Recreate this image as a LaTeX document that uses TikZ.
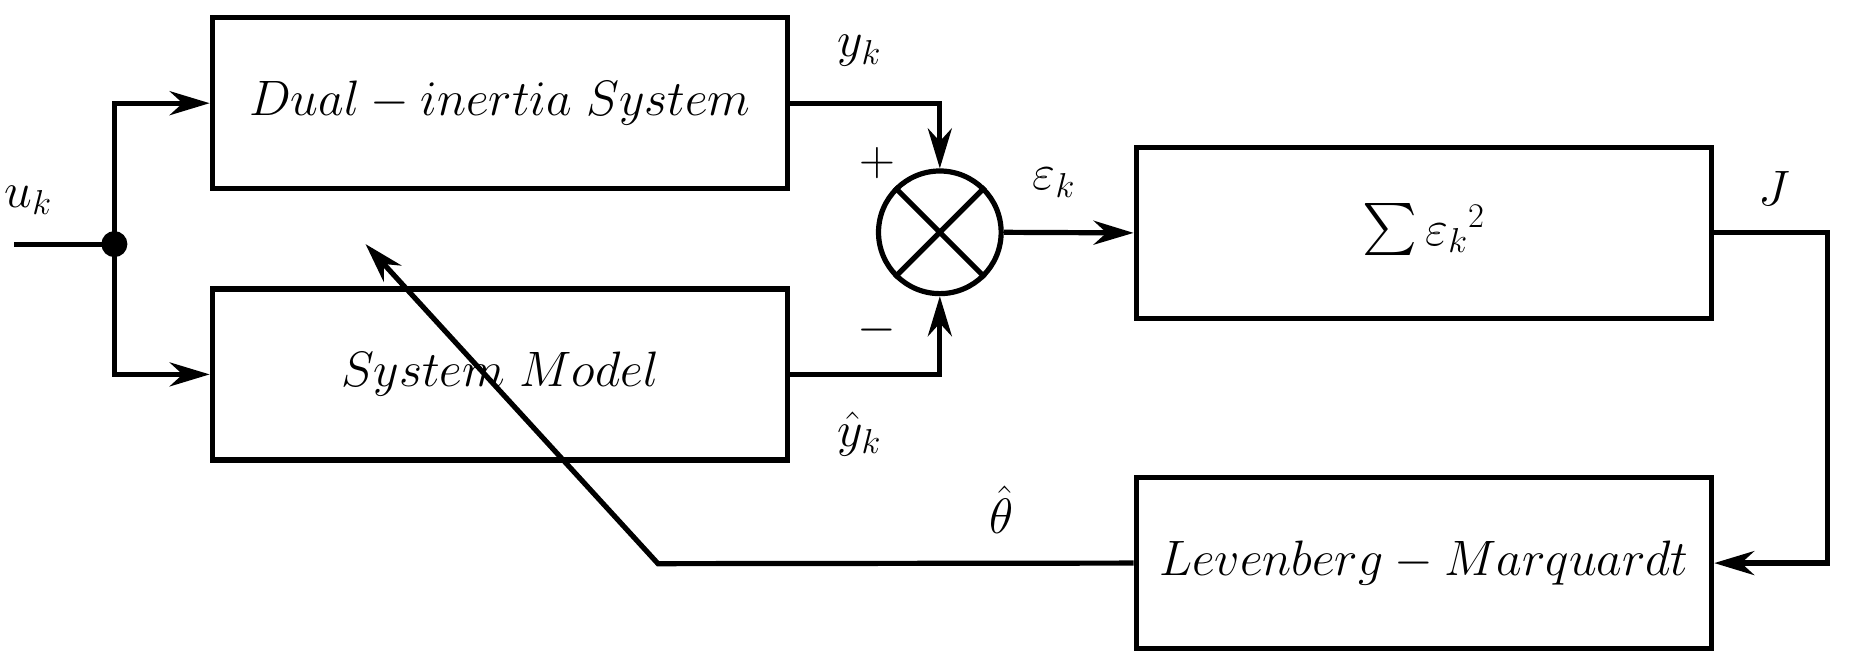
\documentclass[tikz,border=0pt]{standalone}
\usetikzlibrary{arrows.meta}
\begin{document}
\begin{tikzpicture}[x=0.5895pt,y=-0.5895pt,
  blk/.style={draw,line width=2.6pt,minimum width=488*0.5895pt,minimum height=145*0.5895pt,font=\fontsize{24}{28}\selectfont},
  lab/.style={font=\fontsize{24}{28}\selectfont},
  ln/.style={line width=2.6pt},
  arr/.style={ln,-{Stealth[length=20pt,width=12pt]}}]
\useasboundingbox (0,0) rectangle (1568,565);
\node[blk] (dual) at (424,87.5) {$Dual-inertia\ System$};
\node[blk] (model) at (424,317.5) {$System\ Model$};
\node[draw,circle,line width=2.6pt,minimum size=104*0.5895pt,inner sep=0pt] (sum) at (797,197) {};
\draw[ln] (sum.45)--(sum.225) (sum.135)--(sum.315);
\node[blk] (sq) at (1207.5,197.5) {\raisebox{-0.35em}{\scalebox{2.6}{$\sum$}}\,${\varepsilon_k}^2$};
\node[blk] (lm) at (1207.5,477.5) {$Levenberg-Marquardt$};
\coordinate (in) at (12,207);
\coordinate (j) at (97,207);
\fill (j) circle (6.5pt);
\draw[ln] (in)--(j);
\draw[arr] (j)|-(dual.west);
\draw[arr] (j)|-(model.west);
\draw[arr] (dual.east)-|(sum.north);
\draw[arr] (model.east)-|(sum.south);
\draw[arr] (sum.east)--(sq.west);
\coordinate (c1) at (1550,197);
\draw[arr] (sq.east|-c1)--(c1)|-(lm.east);
\coordinate (c2) at (558,478);
\coordinate (c3) at (310,207);
\draw[arr] (lm.west)--(c2)--(c3);
\node[lab] at (24,170) {$u_k$};
\node[lab] at (729,43) {$y_k$};
\node[lab] at (729,368) {$\hat y_k$};
\node[lab] at (744,138) {$+$};
\node[lab] at (744,280) {$-$};
\node[lab] at (894,155) {$\varepsilon_k$};
\node[lab] at (1505,160) {$J$};
\node[lab] at (849,432) {$\hat\theta$};
\end{tikzpicture}
\end{document}
